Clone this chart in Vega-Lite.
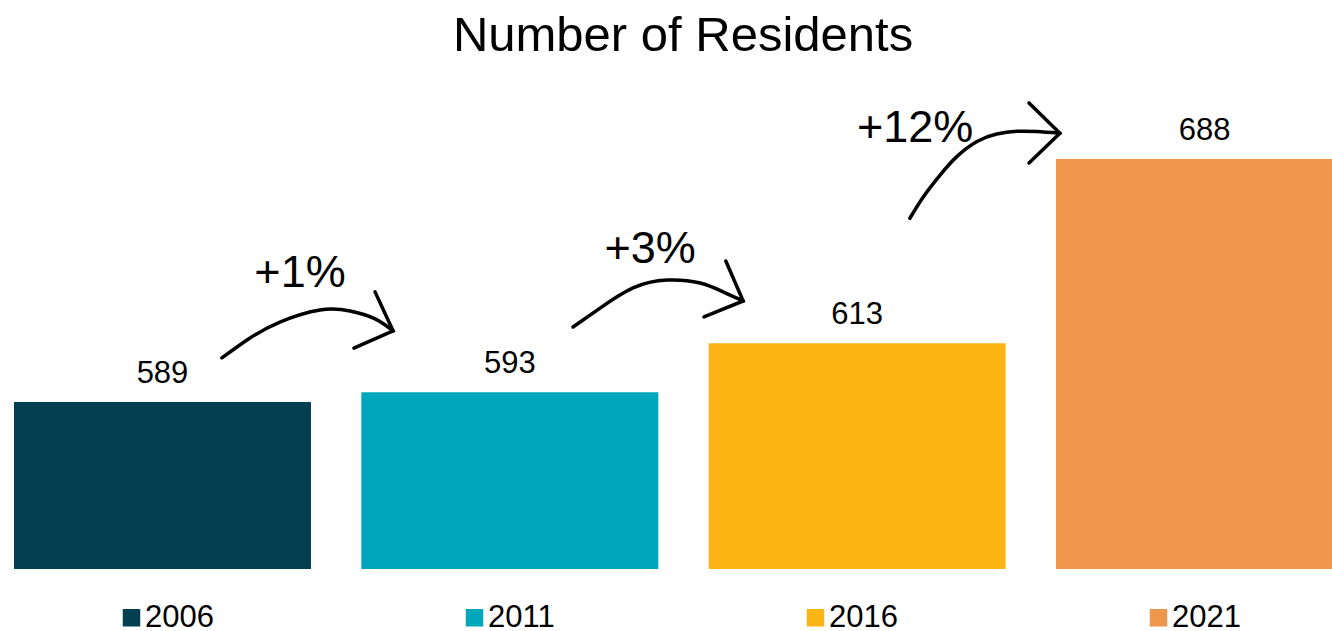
{
  "$schema": "https://vega.github.io/schema/vega-lite/v6.json",
  "width": 1332,
  "height": 513,
  "padding": {"top": 12, "left": 0, "right": 0, "bottom": 0},
  "background": "#ffffff",
  "config": {"view": {"stroke": null}, "font": "Liberation Sans"},
  "title": {"text": "Number of Residents", "fontSize": 49, "fontWeight": "normal", "font": "Liberation Sans", "color": "#000000", "anchor": "middle", "dx": 17, "offset": -5},
  "datasets": {
    "bars": [
      {"year": "2006", "residents": 589},
      {"year": "2011", "residents": 593},
      {"year": "2016", "residents": 613},
      {"year": "2021", "residents": 688}
    ],
    "curves": [
      {"arrow": "a1", "pos": 0.171, "val": 607.0},
      {"arrow": "a1", "pos": 0.252, "val": 615.1},
      {"arrow": "a1", "pos": 0.338, "val": 621.6},
      {"arrow": "a1", "pos": 0.4535, "val": 626.5},
      {"arrow": "a1", "pos": 0.540, "val": 626.1},
      {"arrow": "a1", "pos": 0.612, "val": 622.9},
      {"arrow": "a1", "pos": 0.664, "val": 618.0},
      {"arrow": "a2", "pos": 1.182, "val": 619.6},
      {"arrow": "a2", "pos": 1.260, "val": 627.3},
      {"arrow": "a2", "pos": 1.355, "val": 635.5},
      {"arrow": "a2", "pos": 1.453, "val": 638.7},
      {"arrow": "a2", "pos": 1.548, "val": 637.5},
      {"arrow": "a2", "pos": 1.614, "val": 633.9},
      {"arrow": "a2", "pos": 1.672, "val": 630.2},
      {"arrow": "a3", "pos": 2.152, "val": 663.9},
      {"arrow": "a3", "pos": 2.191, "val": 672.7},
      {"arrow": "a3", "pos": 2.239, "val": 681.5},
      {"arrow": "a3", "pos": 2.287, "val": 689.0},
      {"arrow": "a3", "pos": 2.344, "val": 695.1},
      {"arrow": "a3", "pos": 2.402, "val": 698.2},
      {"arrow": "a3", "pos": 2.460, "val": 699.3},
      {"arrow": "a3", "pos": 2.517, "val": 699.2},
      {"arrow": "a3", "pos": 2.584, "val": 698.5}
    ],
    "heads": [
      {"arrow": "h1", "k": 1, "pos": 0.612, "val": 633.9},
      {"arrow": "h1", "k": 2, "pos": 0.664, "val": 618.0},
      {"arrow": "h1", "k": 3, "pos": 0.551, "val": 611.0},
      {"arrow": "h2", "k": 1, "pos": 1.622, "val": 646.5},
      {"arrow": "h2", "k": 2, "pos": 1.672, "val": 630.2},
      {"arrow": "h2", "k": 3, "pos": 1.559, "val": 623.7},
      {"arrow": "h3", "k": 1, "pos": 2.495, "val": 710.9},
      {"arrow": "h3", "k": 2, "pos": 2.584, "val": 698.5},
      {"arrow": "h3", "k": 3, "pos": 2.495, "val": 686.4}
    ],
    "pcts": [
      {"label": "+1%", "pos": 0.396, "val": 635.9},
      {"label": "+3%", "pos": 1.404, "val": 645.7},
      {"label": "+12%", "pos": 2.167, "val": 695.0}
    ]
  },
  "resolve": {"scale": {"x": "independent"}},
  "layer": [
    {
      "data": {"name": "bars"},
      "mark": {"type": "bar", "clip": true},
      "encoding": {
        "x": {"field": "year", "type": "nominal", "axis": null, "scale": {"type": "band", "range": [14, 1353], "paddingInner": 0.145, "paddingOuter": 0}},
        "y": {"field": "residents", "type": "quantitative", "axis": null, "scale": {"domain": [521, 730], "zero": false, "nice": false}},
        "color": {
          "field": "year", "type": "nominal",
          "scale": {"domain": ["2006", "2011", "2016", "2021"], "range": ["#023F51", "#00A6BA", "#FDB515", "#EE964B"]},
          "legend": {
            "title": null, "orient": "none", "legendX": 116, "legendY": 546,
            "direction": "horizontal", "columns": 4, "columnPadding": 245,
            "symbolType": "square", "symbolSize": 306, "symbolStrokeWidth": 0,
            "labelFontSize": 31, "labelFont": "Liberation Sans", "labelColor": "#000000",
            "labelOffset": -2, "padding": 0
          }
        }
      }
    },
    {
      "data": {"name": "bars"},
      "mark": {"type": "text", "fontSize": 31, "font": "Liberation Sans", "color": "#000000", "baseline": "alphabetic", "dy": -19},
      "encoding": {
        "x": {"field": "year", "type": "nominal", "axis": null, "scale": {"type": "band", "range": [14, 1353], "paddingInner": 0.145, "paddingOuter": 0}},
        "y": {"field": "residents", "type": "quantitative", "axis": null},
        "text": {"field": "residents", "type": "quantitative"}
      }
    },
    {
      "data": {"name": "curves"},
      "mark": {"type": "line", "interpolate": "natural", "color": "#000000", "strokeWidth": 3.5, "strokeCap": "round"},
      "encoding": {
        "x": {"field": "pos", "type": "quantitative", "axis": null, "scale": {"domain": [0, 3], "range": [162.5, 1204.4], "nice": false, "zero": false}},
        "y": {"field": "val", "type": "quantitative", "axis": null},
        "detail": {"field": "arrow", "type": "nominal"}
      }
    },
    {
      "data": {"name": "heads"},
      "mark": {"type": "line", "color": "#000000", "strokeWidth": 3.5, "strokeCap": "round", "strokeJoin": "miter"},
      "encoding": {
        "x": {"field": "pos", "type": "quantitative", "axis": null, "scale": {"domain": [0, 3], "range": [162.5, 1204.4], "nice": false, "zero": false}},
        "y": {"field": "val", "type": "quantitative", "axis": null},
        "detail": {"field": "arrow", "type": "nominal"},
        "order": {"field": "k", "type": "quantitative"}
      }
    },
    {
      "data": {"name": "pcts"},
      "mark": {"type": "text", "fontSize": 45, "font": "Liberation Sans", "color": "#000000", "baseline": "alphabetic", "align": "center"},
      "encoding": {
        "x": {"field": "pos", "type": "quantitative", "axis": null, "scale": {"domain": [0, 3], "range": [162.5, 1204.4], "nice": false, "zero": false}},
        "y": {"field": "val", "type": "quantitative", "axis": null},
        "text": {"field": "label", "type": "nominal"}
      }
    }
  ]
}
